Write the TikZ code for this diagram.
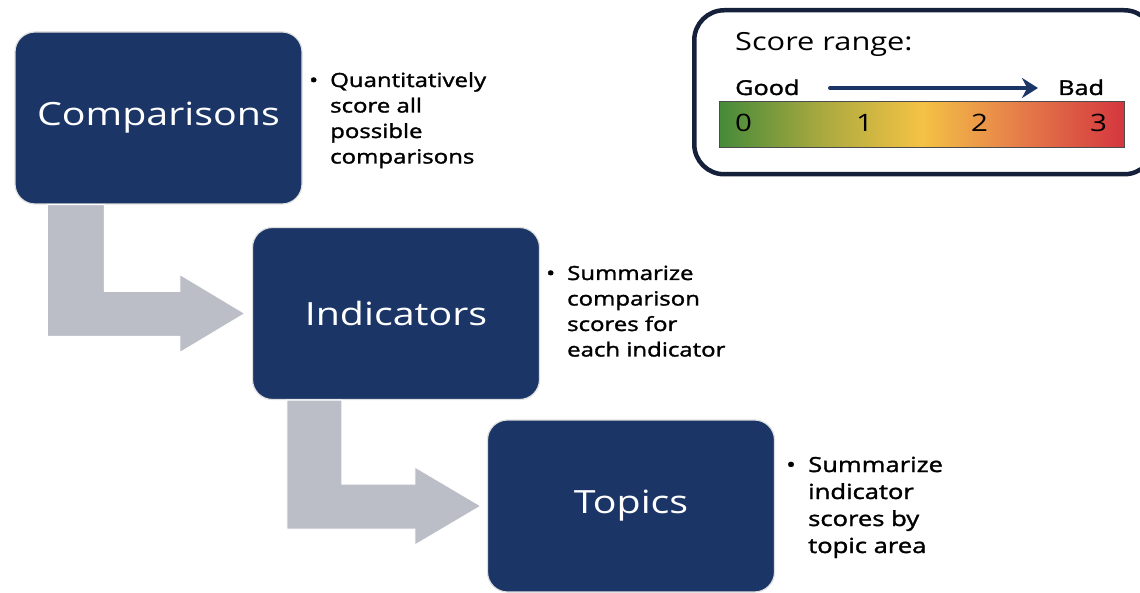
\documentclass[tikz,border=0pt]{standalone}
\usepackage{fontspec}
\setmainfont{Open Sans}[FakeStretch=1.23]
\newfontfamily\semib{Open Sans}[FakeStretch=1.23,FakeBold=1.6]
\usetikzlibrary{calc,arrows.meta}
\definecolor{navy}{HTML}{1B3566}
\definecolor{arrowgray}{HTML}{BBBEC6}
\definecolor{frame}{HTML}{15203A}
\definecolor{sgreen}{HTML}{468A3A}
\definecolor{solive}{HTML}{A8A93F}
\definecolor{syellow}{HTML}{F4C244}
\definecolor{sorange}{HTML}{E8884A}
\definecolor{sred}{HTML}{D4363F}
\pgfdeclarehorizontalshading{scorebar}{100bp}{color(0bp)=(sgreen); color(25bp)=(sgreen); color(37.5bp)=(solive); color(50bp)=(syellow); color(60bp)=(sorange); color(75bp)=(sred); color(100bp)=(sred)}
\newcommand{\toplines}[1]{\begin{tabular}[t]{@{}l@{}}#1\end{tabular}}
\tikzset{
  stage/.style={rounded corners=20pt, fill=navy, draw=gray!25, line width=1.2pt, minimum width=287pt, minimum height=172pt, text=white, font=\fontsize{32}{38}\selectfont, inner sep=0pt},
  bent/.style={fill=arrowgray, draw=white, line width=1pt, line join=miter},
  bullet/.style={anchor=base west, inner sep=0pt, font=\semib\fontsize{19.5}{25.5}\selectfont},
  dot/.style={anchor=base west, inner sep=0pt, font=\semib\fontsize{19.5}{25.5}\selectfont},
  bigger/.style={font=\semib\fontsize{20.8}{27}\selectfont},
  legend/.style={anchor=base west, inner sep=0pt},
}
\begin{document}
\begin{tikzpicture}[x=1pt,y=-1pt]
\useasboundingbox (0,0) rectangle (1140,593);
% stages
\node[stage] (c) at (158.5,118) {Comparisons};
\node[stage] (i) at (396,313.5) {Indicators};
\node[stage] (t) at (631,506) {Topics};
% bent arrows
\coordinate (a1s) at ($(c.south west)+(33,0)$);
\coordinate (a1t) at ($(i.west)+(-7,0)$);
\draw[bent] (a1s) -- ++(57,0) |- ($(a1t)+(-65,-22)$) -- ++(0,-17) -- (a1t) -- ($(a1t)+(-65,39)$) -- ++(0,-16) -| cycle;
\coordinate (a2s) at ($(i.south west)+(35,0)$);
\coordinate (a2t) at ($(t.west)+(-6,0)$);
\draw[bent] (a2s) -- ++(55,0) |- ($(a2t)+(-66,-22)$) -- ++(0,-17) -- (a2t) -- ($(a2t)+(-66,39)$) -- ++(0,-16) -| cycle;
% bullet texts
\node[dot] (b1) at (309,87) {•};
\node[bullet] (t1) at (330,87) {\toplines{Quantitatively\\score all\\possible\\comparisons}};
\node[dot] (b2) at (546,280) {•};
\node[bullet] (t2) at (567,280) {\toplines{Summarize\\comparison\\scores for\\each indicator}};
\node[dot, bigger] (b3) at (786,472) {•};
\node[bullet, bigger] (t3) at (808,472) {\toplines{Summarize\\indicator\\scores by\\topic area}};
% score range legend
\node[draw=frame, line width=4.5pt, rounded corners=30pt, minimum width=460pt, minimum height=164pt, anchor=north west, inner sep=0pt] (legendbox) at (692,8) {};
\node[legend, font=\fontsize{25}{28}\selectfont] (sr) at (735,51) {Score range:};
\node[legend, font=\semib\fontsize{20.5}{24}\selectfont] (good) at (735,95) {Good};
\node[legend, font=\semib\fontsize{20.5}{24}\selectfont] (bad) at (1058,95) {Bad};
\coordinate (arrs) at (830,88);
\coordinate (arre) at (1038,88);
\draw[navy, line width=4pt, line cap=round, -{Stealth[length=16pt,width=20pt]}] (arrs) -- (arre);
\node[draw=black!70, line width=0.8pt, shading=scorebar, minimum width=405pt, minimum height=46pt, anchor=north west, inner sep=0pt] (bar) at (719,101) {};
\node[legend, font=\fontsize{24}{28}\selectfont] (n0) at (735,132) {0};
\node[legend, font=\fontsize{24}{28}\selectfont] (n1) at (856,132) {1};
\node[legend, font=\fontsize{24}{28}\selectfont] (n2) at (971,132) {2};
\node[legend, font=\fontsize{24}{28}\selectfont] (n3) at (1090,132) {3};
\end{tikzpicture}
\end{document}
